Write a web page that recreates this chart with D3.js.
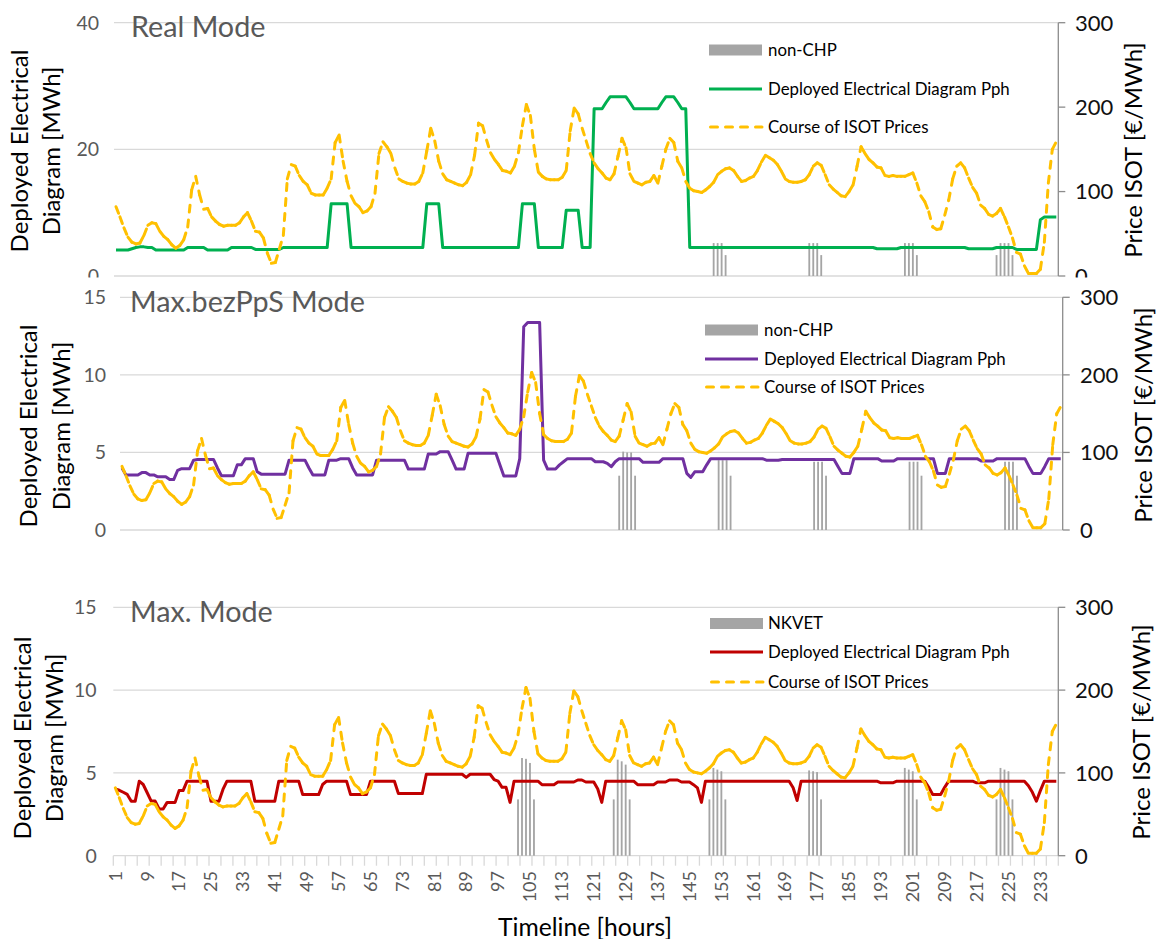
<!DOCTYPE html>
<html><head><meta charset="utf-8">
<script src="https://cdn.jsdelivr.net/npm/d3@7"></script>
<style>body{margin:0;background:#fff}svg{display:block}</style>
</head><body>
<svg id="chart" width="1157" height="939"></svg>
<script>
// ---------------- DATA ----------------
const hours = d3.range(1, 238); // categories 1..237
const xTickLabels = ["1","9","17","25","33","41","49","57","65","73","81","89","97","105","113","121","129","137","145","153","161","169","177","185","193","201","209","217","225","233"];
const leftTicksReal = [0, 20, 40];
const leftTicksMax = [0, 5, 10, 15];
const rightTicks = [0, 100, 200, 300];
const panelTitles = ["Real Mode", "Max.bezPpS Mode", "Max. Mode"];
const barLabels = ["non-CHP", "non-CHP", "NKVET"];
const lineLabel = "Deployed Electrical Diagram Pph";
const priceLabel = "Course of ISOT Prices";

const price = [82,70,57,46,40,38,39,48,60,63,62,53,47,43,37,33,36,43,58,102,
118,96,79,80,70,65,61,59,60,60,60,63,70,75,65,53,52,45,27,15,
16,32,48,115,132,130,119,112,108,98,96,96,96,104,115,158,167,136,112,95,
86,82,75,77,82,98,145,159,153,145,128,115,112,110,109,109,112,122,148,175,
160,136,121,114,112,110,108,107,111,120,143,181,178,161,146,138,132,125,124,122,
130,146,178,203,190,150,123,118,115,114,114,114,117,125,172,199,192,175,160,145,
134,127,122,116,114,121,142,163,152,121,112,110,108,111,112,119,110,130,150,163,
158,136,128,112,104,101,100,99,102,106,111,120,124,127,128,125,118,112,113,116,
118,125,135,143,140,137,132,124,115,112,111,111,112,114,120,130,134,131,120,108,
103,99,95,94,100,108,130,153,145,138,134,129,128,119,118,119,118,118,118,120,
122,110,95,88,76,58,55,56,72,90,115,130,134,128,116,105,98,84,80,73,
71,74,80,70,58,45,28,26,12,3,3,3,8,40,110,150,159];

const pphReal = [4.1,4.1,4.1,4.1,4.3,4.5,4.6,4.6,4.5,4.5,
4.1,4.1,4.1,4.1,4.1,4.1,4.1,4.1,4.5,4.5,4.5,4.5,4.5,
4.1,4.1,4.1,4.1,4.1,4.1,4.5,4.5,4.5,4.5,4.5,4.5,
4.2,4.2,4.2,4.2,4.2,4.2,4.2,
4.5,4.5,4.5,4.5,4.5,4.5,4.5,4.5,4.5,4.5,4.5,4.5,
11.4,11.4,11.4,11.4,11.4,
4.5,4.5,4.5,4.5,4.5,4.5,4.5,4.5,4.5,4.5,4.5,4.5,4.5,4.5,4.5,4.5,4.5,4.5,4.5,
11.4,11.4,11.4,11.4,
4.5,4.5,4.5,4.5,4.5,4.5,4.5,4.5,4.5,4.5,4.5,4.5,4.5,4.5,4.5,4.5,4.5,4.5,4.5,4.5,
11.4,11.4,11.4,11.4,
4.5,4.5,4.5,4.5,4.5,4.5,4.5,
10.4,10.4,10.4,10.4,
4.5,4.5,4.5,
26.4,26.4,26.4,27.4,28.3,28.3,28.3,28.3,28.3,27.4,
26.4,26.4,26.4,26.4,26.4,26.4,26.4,27.4,28.3,28.3,28.3,27.4,26.4,26.4,
4.5,4.5,4.5,4.5,4.5,4.5,4.5,4.5,4.5,4.5,4.5,4.5,4.5,4.5,4.5,4.5,4.5,4.5,4.5,4.5,
4.5,4.5,4.5,4.5,4.5,4.5,4.5,4.5,4.5,4.5,4.5,4.5,4.5,4.5,4.5,4.5,4.5,4.5,4.5,4.5,
4.5,4.5,4.5,4.5,4.5,4.5,4.5,
4.3,4.3,4.3,4.3,4.3,4.3,
4.5,4.5,4.5,4.5,4.5,4.5,4.5,4.5,4.5,4.5,4.5,4.5,4.5,4.5,4.5,4.5,4.5,
4.3,4.3,4.3,4.3,4.3,4.3,4.3,
4.5,4.5,4.5,4.5,4.5,
4.2,4.2,4.2,4.2,4.2,4.2,
8.9,9.3,9.3,9.3,9.3];

const pphBez = [4.0,3.55,3.55,3.55,3.55,3.7,3.7,3.55,3.55,3.43,3.43,3.43,3.25,3.25,3.85,
3.95,3.95,3.95,4.5,4.55,4.55,4.55,4.55,4.55,4.0,3.5,3.5,3.5,3.5,4.2,4.2,4.6,4.6,4.6,3.75,
3.6,3.6,3.6,3.6,3.6,3.6,3.6,4.5,4.5,4.5,4.5,4.5,4.0,3.55,3.55,3.55,3.55,4.5,4.5,4.5,
4.6,4.6,4.6,4.0,3.55,3.55,3.55,3.55,3.55,4.5,4.5,4.5,4.5,4.5,4.5,4.5,4.5,
3.93,3.93,3.93,3.93,3.93,4.9,4.9,4.9,5.05,5.05,5.05,4.5,3.93,3.93,3.93,
4.94,4.94,4.94,4.94,4.94,4.94,4.94,4.94,4.2,3.48,3.48,3.48,3.48,4.6,13.1,
13.37,13.37,13.37,13.37,4.5,3.93,3.93,3.93,4.2,4.4,4.6,4.6,4.6,4.6,4.6,4.6,4.6,
4.4,4.4,4.4,4.3,4.08,4.4,4.6,4.6,4.6,4.6,4.6,4.6,4.36,4.36,4.36,4.36,4.36,
4.6,4.6,4.6,4.6,4.6,4.6,3.65,3.39,3.75,3.75,3.75,4.2,
4.6,4.6,4.6,4.6,4.6,4.6,4.6,4.6,4.6,4.6,4.6,4.6,4.6,4.6,4.5,4.5,4.5,4.5,
4.55,4.55,4.55,4.55,4.55,4.55,4.55,4.55,4.55,4.55,4.55,4.55,4.55,4.55,4.1,3.65,3.65,3.65,
4.6,4.6,4.6,4.6,4.6,4.6,4.6,4.45,4.45,4.45,4.45,4.6,4.6,4.6,4.6,4.6,4.6,4.6,4.6,4.6,4.6,
3.65,3.65,3.65,4.6,4.6,4.6,4.6,4.6,4.6,4.6,4.6,4.45,4.45,4.45,4.45,
4.6,4.6,4.6,4.6,4.6,4.6,4.6,4.6,4.1,3.65,3.65,3.65,4.1,4.6,4.6,4.6,4.6];

const pphMax = [4.03,3.95,3.83,3.7,3.29,3.29,4.5,4.3,3.8,3.3,3.3,2.82,2.82,3.22,3.22,3.22,3.93,3.93,
4.5,4.5,4.5,4.5,4.5,4.5,3.29,3.29,3.29,4.0,4.5,4.5,4.5,4.5,4.5,4.5,4.5,
3.29,3.29,3.29,3.29,3.29,3.29,4.5,4.5,4.5,4.5,4.5,4.5,3.69,3.69,3.69,3.69,3.69,4.3,
4.5,4.5,4.5,4.5,4.5,4.5,3.69,3.69,3.69,3.69,3.69,4.5,4.5,4.5,4.5,4.5,4.5,4.5,
3.75,3.75,3.75,3.75,3.75,3.75,3.75,4.92,4.92,4.92,4.92,4.92,4.92,4.92,4.92,4.92,4.92,4.73,
4.92,4.92,4.92,4.92,4.92,4.92,4.6,4.5,4.13,4.13,3.22,4.5,4.5,4.5,4.5,4.5,4.5,4.5,
4.29,4.29,4.29,4.29,4.45,4.45,4.45,4.45,4.45,4.57,4.57,4.45,4.45,4.45,4.03,3.22,
4.5,4.5,4.5,4.5,4.5,4.5,4.5,4.5,4.29,4.29,4.29,4.29,4.29,4.45,4.45,4.45,4.57,4.57,4.57,
4.45,4.45,4.45,4.29,4.1,3.22,
4.5,4.5,4.5,4.5,4.5,4.5,4.5,4.5,4.5,4.5,4.5,4.5,4.5,4.5,4.5,4.5,4.5,4.5,4.5,4.5,4.5,4.5,
4.1,3.33,
4.5,4.5,4.5,4.5,4.5,4.5,4.5,4.5,4.5,4.5,4.5,4.5,4.5,4.5,4.5,4.5,4.5,4.5,4.5,4.5,
4.4,4.4,4.4,4.4,4.5,4.5,4.5,4.5,4.5,4.5,4.5,4.5,4.13,3.69,3.69,3.69,4.13,
4.5,4.5,4.5,4.5,4.5,4.5,4.5,4.4,4.4,4.4,
4.5,4.5,4.5,4.5,4.5,4.5,4.5,4.5,4.5,4.5,4.23,3.83,3.29,3.93,4.5,4.5,4.5,4.5];

const barRealHours  = [151,152,153,154,175,176,177,178,199,200,201,202,222,223,224,225,226];
const barRealValues = [5.2,5.2,5.2,3.3,5.2,5.2,5.2,3.3,5.2,5.2,5.2,3.3,3.3,5.2,5.2,5.2,3.3];
const barBezHours   = [126,127,128,129,130,151,152,153,154,175,176,177,178,199,200,201,202,223,224,225,226];
const barBezValues  = [3.5,5.05,5.0,5.0,3.5,4.5,4.5,4.5,3.5,4.4,4.4,4.4,3.5,4.4,4.4,4.4,3.5,4.4,4.4,4.4,3.5];
const barMaxHours   = [102,103,104,105,106,126,127,128,129,130,150,151,152,153,154,175,176,177,178,199,200,201,202,222,223,224,225,226];
const barMaxValues  = [3.4,5.9,5.85,5.6,3.4,3.4,5.8,5.7,5.5,3.4,3.4,5.3,5.2,5.1,3.4,5.15,5.1,5.05,3.4,5.3,5.2,5.1,3.4,3.4,5.3,5.2,5.1,3.4];

// ---------------- LAYOUT / STYLE ----------------
const FONT = "Lato, 'Open Sans', sans-serif";
const GRID = "#d9d9d9", GRAYTXT = "#595959", BARC = "#a5a5a5", PRICEC = "#FFC000";

const panels = [
  {title: panelTitles[0], series: pphReal, color: "#00B050", barH: barRealHours, barV: barRealValues, barLabel: barLabels[0],
   yMax: 40, lTicks: leftTicksReal, left: 114, right: 1058.3, top: 22.7, bottom: 276,
   bg: null, titleX: 131, titleY: 36.5, lLabX: 99, rLabX: 1075,
   yt: {b1: 27.5, b2: 59.5, yc: 151}, rt: {b: 1142, yc: 150},
   lg: {x0: 709, x1: 762, tx: 768, ys: [50, 89, 127]}, xAxis: false},
  {title: panelTitles[1], series: pphBez, color: "#7030A0", barH: barBezHours, barV: barBezValues, barLabel: barLabels[1],
   yMax: 15, lTicks: leftTicksMax, left: 120, right: 1062.7, top: 297.3, bottom: 530,
   bg: [277.5, 560], titleX: 130, titleY: 311.5, lLabX: 106, rLabX: 1080,
   yt: {b1: 36.7, b2: 70, yc: 426}, rt: {b: 1152, yc: 415},
   lg: {x0: 705, x1: 758, tx: 764, ys: [330, 359, 387]}, xAxis: false},
  {title: panelTitles[2], series: pphMax, color: "#C00000", barH: barMaxHours, barV: barMaxValues, barLabel: barLabels[2],
   yMax: 15, lTicks: leftTicksMax, left: 113.3, right: 1058.3, top: 607.3, bottom: 855.7,
   bg: [560, 939], titleX: 130, titleY: 621.5, lLabX: 96.7, rLabX: 1075,
   yt: {b1: 30.7, b2: 62.7, yc: 738}, rt: {b: 1150, yc: 732},
   lg: {x0: 710, x1: 763, tx: 768, ys: [623.5, 652, 682]}, xAxis: true}
];

const svg = d3.select("#chart");

function measure(txt, size) {
  const t = svg.append("text").attr("font-family", FONT).attr("font-size", size).text(txt);
  const w = t.node().getComputedTextLength();
  t.remove();
  return w;
}
const legendSize = 16 * 242 / measure(lineLabel, 16);
const yTitleSize = 20 * 203 / measure("Deployed Electrical", 20);
const panelTitleSize = 24 * 235 / measure(panelTitles[1], 24);
const xTitleSize = 22 * 174 / measure("Timeline [hours]", 22);

panels.forEach(p => {
  const g = svg.append("g");
  if (p.bg) g.append("rect").attr("x", 0).attr("y", p.bg[0]).attr("width", 1157).attr("height", p.bg[1] - p.bg[0]).attr("fill", "#fff");

  const x = d3.scaleBand().domain(hours).range([p.left, p.right]).paddingInner(0).paddingOuter(0);
  const bw = x.bandwidth();
  const cx = h => x(h) + bw / 2;
  const yL = d3.scaleLinear().domain([0, p.yMax]).range([p.bottom, p.top]);
  const yR = d3.scaleLinear().domain([0, 300]).range([p.bottom, p.top]);

  // gridlines
  g.selectAll("line.grid").data(p.lTicks).join("line")
    .attr("x1", p.left).attr("x2", p.right)
    .attr("y1", d => yL(d)).attr("y2", d => yL(d))
    .attr("stroke", GRID).attr("stroke-width", 1.3);

  // x axis ticks for bottom panel
  if (p.xAxis) {
    const tickHours = hours.filter((h, i) => i % 3 === 0);
    g.selectAll("line.xt").data(tickHours.concat([null])).join("line")
      .attr("x1", d => d === null ? p.right : x(d)).attr("x2", d => d === null ? p.right : x(d))
      .attr("y1", p.bottom).attr("y2", p.bottom + 10)
      .attr("stroke", GRID).attr("stroke-width", 1.3);
    g.selectAll("text.xl").data(xTickLabels).join("text")
      .attr("transform", d => `translate(${cx(+d)},871) rotate(-90)`)
      .attr("text-anchor", "end").attr("dy", "0.35em")
      .attr("font-family", FONT).attr("font-size", 18).attr("fill", GRAYTXT)
      .text(d => d);
    svg.append("text").attr("x", 585).attr("y", 936)
      .attr("text-anchor", "middle").attr("font-family", FONT).attr("font-size", xTitleSize)
      .attr("fill", "#000").text("Timeline [hours]");
  }

  // bars
  g.selectAll("rect.bar").data(p.barH.map((h, i) => ({h, v: p.barV[i]}))).join("rect")
    .attr("x", d => x(d.h) + bw * 0.27).attr("width", bw * 0.46)
    .attr("y", d => yL(d.v)).attr("height", d => yL(0) - yL(d.v))
    .attr("fill", BARC);

  // deployed line
  const line = d3.line().x((d, i) => cx(hours[i])).y(d => yL(d));
  g.append("path").attr("d", line(p.series)).attr("fill", "none")
    .attr("stroke", p.color).attr("stroke-width", 3).attr("stroke-linejoin", "round");

  // price line: dash pattern restarts every segment (as in the original)
  const pts = price.map((v, i) => [cx(hours[i]), yR(v)]);
  const segLine = d3.line();
  g.selectAll("path.seg").data(d3.pairs(pts)).join("path")
    .attr("d", d => segLine(d)).attr("fill", "none")
    .attr("stroke", PRICEC).attr("stroke-width", 3)
    .attr("stroke-linecap", "round").attr("stroke-dasharray", "7,8");

  // right axis
  g.append("line").attr("x1", p.right).attr("x2", p.right).attr("y1", p.top).attr("y2", p.bottom)
    .attr("stroke", "#8c8c8c").attr("stroke-width", 1.3);
  g.selectAll("line.rt").data(rightTicks).join("line")
    .attr("x1", p.right).attr("x2", p.right + 7).attr("y1", d => yR(d)).attr("y2", d => yR(d))
    .attr("stroke", "#8c8c8c").attr("stroke-width", 1.3);
  g.selectAll("text.rl").data(rightTicks).join("text")
    .attr("x", p.rLabX).attr("y", d => yR(d)).attr("dy", "0.36em")
    .attr("font-family", FONT).attr("font-size", 22).attr("fill", "#111")
    .text(d => d);

  // left tick labels
  g.selectAll("text.ll").data(p.lTicks).join("text")
    .attr("x", p.lLabX).attr("y", d => yL(d)).attr("dy", "0.36em").attr("text-anchor", "end")
    .attr("font-family", FONT).attr("font-size", 19.5).attr("fill", GRAYTXT)
    .text(d => d);

  // panel title
  g.append("text").attr("x", p.titleX).attr("y", p.titleY)
    .attr("font-family", FONT).attr("font-size", panelTitleSize).attr("fill", GRAYTXT).text(p.title);

  // legend
  const lg = g.append("g");
  lg.append("rect").attr("x", p.lg.x0).attr("y", p.lg.ys[0] - 5.5).attr("width", p.lg.x1 - p.lg.x0).attr("height", 11).attr("fill", BARC);
  lg.append("line").attr("x1", p.lg.x0).attr("x2", p.lg.x1).attr("y1", p.lg.ys[1]).attr("y2", p.lg.ys[1])
    .attr("stroke", p.color).attr("stroke-width", 3);
  lg.append("line").attr("x1", p.lg.x0 + 1.5).attr("x2", p.lg.x1).attr("y1", p.lg.ys[2]).attr("y2", p.lg.ys[2])
    .attr("stroke", PRICEC).attr("stroke-width", 3).attr("stroke-linecap", "round").attr("stroke-dasharray", "7,8");
  [p.barLabel, lineLabel, priceLabel].forEach((t, i) => {
    lg.append("text").attr("x", p.lg.tx).attr("y", p.lg.ys[i]).attr("dy", "0.35em")
      .attr("font-family", FONT).attr("font-size", legendSize).attr("fill", "#000").text(t);
  });

  // left axis title (two lines)
  [["Deployed Electrical", p.yt.b1], ["Diagram [MWh]", p.yt.b2]].forEach(([t, b]) => {
    g.append("text").attr("transform", `translate(${b},${p.yt.yc}) rotate(-90)`)
      .attr("text-anchor", "middle").attr("font-family", FONT).attr("font-size", yTitleSize)
      .attr("fill", "#000").text(t);
  });
  // right axis title
  g.append("text").attr("transform", `translate(${p.rt.b},${p.rt.yc}) rotate(-90)`)
    .attr("text-anchor", "middle").attr("font-family", FONT).attr("font-size", yTitleSize)
    .attr("fill", "#000").text("Price ISOT [€/MWh]");
});
</script>
</body></html>
